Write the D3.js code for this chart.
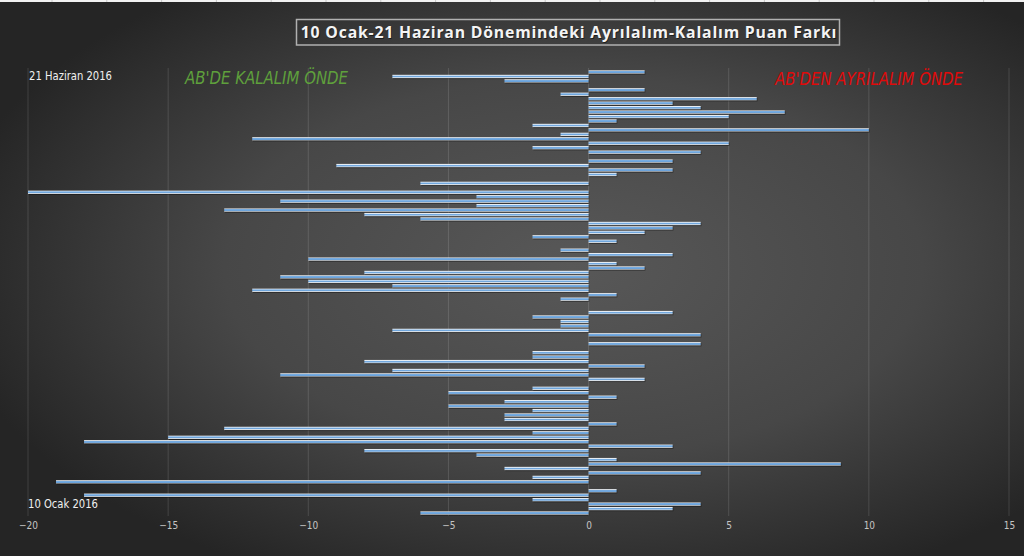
<!DOCTYPE html>
<html>
<head>
<meta charset="utf-8">
<script src="https://cdn.jsdelivr.net/npm/d3@7"></script>
<style>
html,body{margin:0;padding:0;background:#333;overflow:hidden;}
svg{display:block;}
</style>
</head>
<body>
<svg id="chart" width="1024" height="556"></svg>
<script>
// Poll differences (Leave minus Remain), chronological: 10 Ocak 2016 -> 21 Haziran 2016
const polls = d3.range(1, 101);
const diffs = [
  -6, 3, 4, -2, -18, 1, 0, -19, -2, 4,
  -3, 9, 1, -4, -8, 3, -18, -15, -2, -13,
  1, -3, -3, -2, -5, -3, 1, -5, -2, 0,
  2, -11, -7, 2, -8, -2, -2, 0, 4, 0,
  4, -7, -1, -1, -2, 3, 0, 0, -1, 1,
  -12, -7, -10, -11, -8, 2, 1, -10, 3, -1,
  0, 1, -2, 2, 3, 4, -6, -8, -13, -4,
  -11, -4, -20, 0, -6, 0, 1, 3, -9, 3,
  0, 4, -2, 5, -12, -1, 10, -2, 1, 5,
  7, 4, 3, 6, -1, 2, 0, -3, -7, 2
];
const xTicks = [-20, -15, -10, -5, 0, 5, 10, 15];
const titleText = "10 Ocak-21 Haziran Dönemindeki Ayrılalım-Kalalım Puan Farkı";
const firstDateLabel = "10 Ocak 2016";
const lastDateLabel = "21 Haziran 2016";
const remainLabel = "AB'DE KALALIM ÖNDE";
const leaveLabel = "AB'DEN AYRILALIM ÖNDE";

const svg = d3.select("#chart");
const W = 1024, H = 556;
const defs = svg.append("defs");

const bg = defs.append("radialGradient").attr("id","bg")
  .attr("cx","56%").attr("cy","48%").attr("r","62%");
bg.append("stop").attr("offset","0%").attr("stop-color","#585858");
bg.append("stop").attr("offset","55%").attr("stop-color","#474747");
bg.append("stop").attr("offset","100%").attr("stop-color","#252525");

const bar = defs.append("linearGradient").attr("id","bar")
  .attr("x1","0").attr("y1","0").attr("x2","0").attr("y2","1");
bar.append("stop").attr("offset","0%").attr("stop-color","#f0f2f4");
bar.append("stop").attr("offset","18%").attr("stop-color","#e4ecf4");
bar.append("stop").attr("offset","30%").attr("stop-color","#78ade2");
bar.append("stop").attr("offset","70%").attr("stop-color","#6aa2da");
bar.append("stop").attr("offset","82%").attr("stop-color","#d8e0e8");
bar.append("stop").attr("offset","100%").attr("stop-color","#b0b4b8");

svg.append("rect").attr("width",W).attr("height",H).attr("fill","url(#bg)");

// spreadsheet strip at top
svg.append("rect").attr("x",0).attr("y",0).attr("width",W).attr("height",2).attr("fill","#f2f2f2");
svg.selectAll("line.cell").data(d3.range(52, W, 54.8)).join("line")
  .attr("x1",d=>d).attr("x2",d=>d).attr("y1",0).attr("y2",2)
  .attr("stroke","#c8c8c8").attr("stroke-width",1);

const x = d3.scaleLinear().domain([-20, 15]).range([28, 1009]);
const y = d3.scaleBand().domain(polls.slice().reverse())
  .range([69.8, 515.3]).paddingInner(0.25).paddingOuter(0.125);

// gridlines
svg.append("g").selectAll("line").data(xTicks).join("line")
  .attr("x1",d=>x(d)).attr("x2",d=>x(d)).attr("y1",68).attr("y2",516)
  .attr("stroke","#ffffff").attr("stroke-opacity",0.13).attr("stroke-width",1);

// axis labels
const axis = d3.axisBottom(x).tickValues(xTicks).tickSize(0).tickPadding(0);
const gAxis = svg.append("g").attr("transform","translate(0,522)").call(axis);
gAxis.select(".domain").remove();
gAxis.selectAll("text").attr("fill","#c4c4c4")
  .attr("font-family","'Liberation Sans Narrow','DejaVu Sans Condensed',sans-serif")
  .attr("font-size",10).attr("dy","0.71em");

// bars: shadow + bevel
const gb = svg.append("g");
gb.selectAll("rect.sh").data(polls).join("rect").attr("class","sh")
  .attr("x",(d,i)=>Math.min(x(0), x(diffs[i])) + 0.8)
  .attr("y",d=>y(d) + 1)
  .attr("width",(d,i)=>Math.abs(x(diffs[i]) - x(0)))
  .attr("height",y.bandwidth())
  .attr("fill","#000").attr("fill-opacity",(d,i)=>diffs[i]===0?0:0.35);
gb.selectAll("rect.b").data(polls).join("rect").attr("class","b")
  .attr("x",(d,i)=>Math.min(x(0), x(diffs[i])))
  .attr("y",d=>y(d))
  .attr("width",(d,i)=>Math.abs(x(diffs[i]) - x(0)))
  .attr("height",y.bandwidth())
  .attr("fill","url(#bar)");

// title box
svg.append("rect").attr("x",296.5).attr("y",19.5).attr("width",543).attr("height",25.5)
  .attr("fill","none").attr("stroke","#b0b0b0").attr("stroke-width",1.5);
const titleAttrs = sel => sel.attr("x",569).attr("y",38.2).attr("text-anchor","middle")
  .attr("font-family","'Open Sans',sans-serif").attr("font-weight",700)
  .attr("font-size",15.8).attr("letter-spacing",0.8).text(titleText);
svg.append("text").call(titleAttrs).attr("fill","#000").attr("fill-opacity",0.5)
  .attr("transform","translate(0.8,0.8)");
svg.append("text").call(titleAttrs).attr("fill","#f4f4f4");

const narrow = "'Liberation Sans Narrow','DejaVu Sans Condensed',sans-serif";
svg.append("text").attr("x",29).attr("y",80).attr("font-family",narrow)
  .attr("font-size",11.5).attr("fill","#f0f0f0")
  .attr("textLength",83).attr("lengthAdjust","spacingAndGlyphs").text(lastDateLabel);
svg.append("text").attr("x",28).attr("y",508).attr("font-family",narrow)
  .attr("font-size",11.5).attr("fill","#f0f0f0")
  .attr("textLength",70).attr("lengthAdjust","spacingAndGlyphs").text(firstDateLabel);

svg.append("text").attr("x",185).attr("y",84).attr("font-family",narrow)
  .attr("font-style","italic").attr("font-size",17).attr("fill","#5fa03c")
  .attr("textLength",163).attr("lengthAdjust","spacingAndGlyphs").text(remainLabel);
svg.append("text").attr("x",775).attr("y",85).attr("font-family",narrow)
  .attr("font-style","italic").attr("font-size",17).attr("fill","#e00a0a")
  .attr("textLength",188).attr("lengthAdjust","spacingAndGlyphs").text(leaveLabel);
</script>
</body>
</html>
